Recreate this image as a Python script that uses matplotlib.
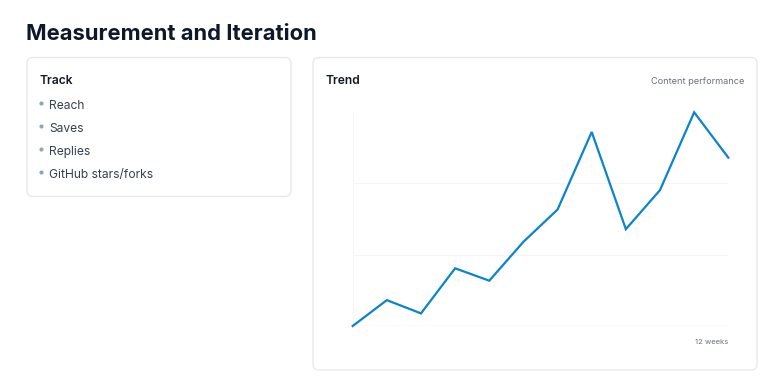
import matplotlib.pyplot as plt
from matplotlib.patches import FancyBboxPatch

plt.rcParams['font.family'] = ['Inter', 'DejaVu Sans']

# data
weeks = list(range(1, 13))
performance = [0, 12.1, 5.9, 27.0, 21.2, 39.4, 54.5, 90.8, 45.3, 63.6, 100, 78.8]
track_items = ["Reach", "Saves", "Replies", "GitHub stars/forks"]
grid_levels = [0, 33.3, 66.7, 100]

W, H = 784, 392
fig = plt.figure(figsize=(W / 100, H / 100), dpi=100)
fig.patch.set_facecolor('white')

# background layer in pixel coordinates (y downwards)
bg = fig.add_axes([0, 0, 1, 1])
bg.set_xlim(0, W)
bg.set_ylim(H, 0)
bg.axis('off')

def card(x0, y0, x1, y1):
    bg.add_patch(FancyBboxPatch((x0, y0), x1 - x0, y1 - y0,
                                boxstyle="round,pad=0,rounding_size=6",
                                fc='white', ec='#e5e7eb', lw=0.9))

card(27, 57.5, 291, 196.5)
card(313, 57.5, 757, 370)

bg.text(26, 34, "Measurement and Iteration", fontsize=15.8, fontweight='bold',
        color='#0f172a', va='center', ha='left')

bg.text(40, 80.5, "Track", fontsize=8.7, fontweight='semibold', color='#111827',
        va='center', ha='left')
for i, item in enumerate(track_items):
    y = 106 + i * 23
    bg.plot(41.5, y - 3, 'o', ms=3, color='#94a3b8', mec='none')
    bg.text(49, y, item, fontsize=8.7, color='#374151', va='center', ha='left')

bg.text(326, 80.5, "Trend", fontsize=8.7, fontweight='semibold', color='#111827',
        va='center', ha='left')
bg.text(744, 81.5, "Content performance", fontsize=6.6, color='#6b7280',
        va='center', ha='right')
bg.text(728, 341.5, "12 weeks", fontsize=5.5, color='#6b7280',
        va='center', ha='right')

# chart area
left, right, top, bottom = 352.7, 728.3, 112.3, 326
ax = fig.add_axes([left / W, 1 - bottom / H, (right - left) / W, (bottom - top) / H])
ax.patch.set_alpha(0)
ax.set_xlim(weeks[0], weeks[-1])
ax.set_ylim(0, 100)
for g in grid_levels[1:-1]:
    ax.axhline(g, color='#f3f4f6', lw=0.8, zorder=0)
ax.axhline(0, color='#e5e7eb', lw=0.9, zorder=0)
ax.axvline(weeks[0], color='#f3f4f6', lw=0.8, zorder=0)
ax.plot(weeks, performance, color='#0a84cc', lw=1.6, solid_joinstyle='miter', clip_on=False)
for s in ax.spines.values():
    s.set_visible(False)
ax.set_xticks([])
ax.set_yticks([])

fig.savefig("out.png", dpi=100)
